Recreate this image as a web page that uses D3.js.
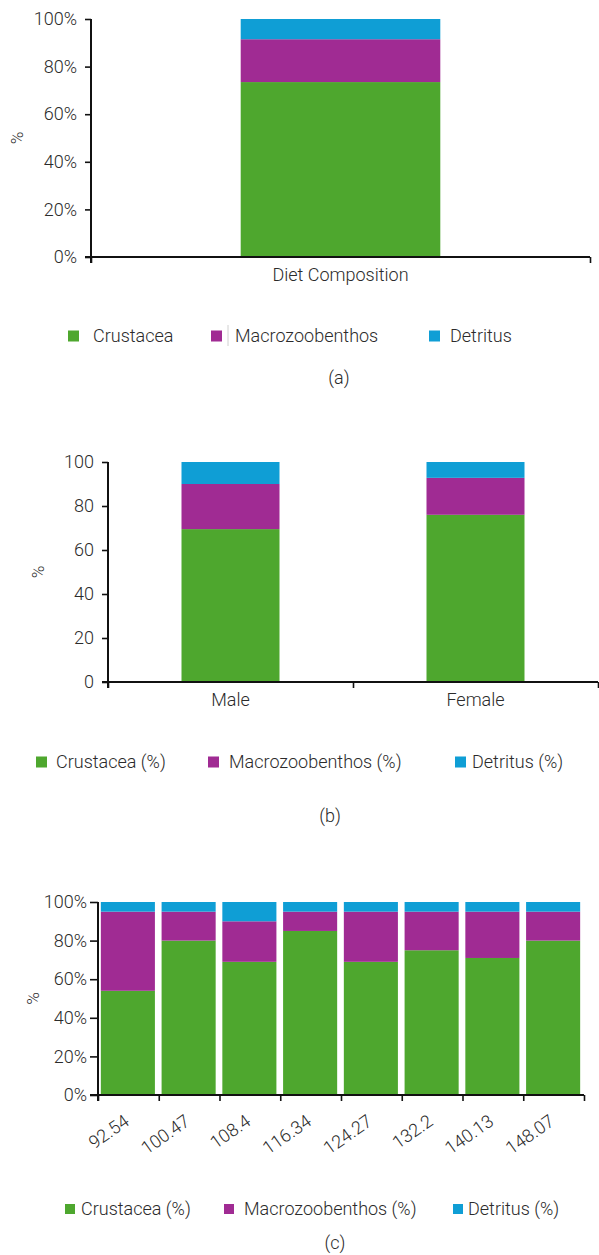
<!DOCTYPE html>
<html>
<head>
<meta charset="utf-8">
<script src="https://cdn.jsdelivr.net/npm/d3@7"></script>
<style>
  html, body { margin: 0; padding: 0; background: #fff; }
  svg { display: block; }
  text { font-family: Roboto, "Noto Sans", sans-serif; font-weight: 300; fill: #2b2b2b; }
</style>
</head>
<body>
<svg id="chart" width="599" height="1255"></svg>
<script>
// ---------- DATA ----------
const seriesNamesA = ["Crustacea", "Macrozoobenthos", "Detritus"];
const seriesNamesBC = ["Crustacea (%)", "Macrozoobenthos (%)", "Detritus (%)"];

const catsA = ["Diet Composition"];
const crustA = [73.5];
const macroA = [18];
const detA = [8.5];
const ticksA = [0, 20, 40, 60, 80, 100];

const catsB = ["Male", "Female"];
const crustB = [69.5, 76];
const macroB = [20.5, 16.8];
const detB = [10, 7.2];
const ticksB = [0, 20, 40, 60, 80, 100];

const catsC = ["92.54", "100.47", "108.4", "116.34", "124.27", "132.2", "140.13", "148.07"];
const crustC = [54, 80, 69, 85, 69, 75, 71, 80];
const macroC = [41, 15, 21, 10, 26, 20, 24, 15];
const detC = [5, 5, 10, 5, 5, 5, 5, 5];
const ticksC = [0, 20, 40, 60, 80, 100];

const colors = ["#4EA72E", "#A02B93", "#0F9ED5"];
const keys = ["crust", "macro", "det"];

const svg = d3.select("#chart");

function buildRows(cats, a, b, c) {
  return cats.map((cat, i) => ({ cat, crust: a[i], macro: b[i], det: c[i] }));
}

function panel(opt) {
  const rows = buildRows(opt.cats, opt.a, opt.b, opt.c);
  const g = svg.append("g");
  const x = d3.scaleBand().domain(opt.cats).range(opt.xRange).paddingInner(0).paddingOuter(0);
  const y = d3.scaleLinear().domain([0, 100]).range(opt.yRange);
  const stack = d3.stack().keys(keys)(rows);
  const bw = x.bandwidth() * opt.barRatio;

  stack.forEach((layer, li) => {
    g.selectAll(null).data(layer).enter().append("rect")
      .attr("x", d => x(d.data.cat) + (x.bandwidth() - bw) / 2 + (opt.barShift || 0))
      .attr("width", bw)
      .attr("y", d => y(d[1]))
      .attr("height", d => y(d[0]) - y(d[1]))
      .attr("fill", colors[li]);
  });

  // y axis
  const yAxis = d3.axisLeft(y).tickValues(opt.ticks).tickFormat(opt.fmt)
    .tickSize(opt.yTick).tickPadding(opt.yPad).tickSizeOuter(0);
  const ya = g.append("g").attr("transform", `translate(${opt.xRange[0]},0)`).call(yAxis);
  ya.select(".domain").remove();
  ya.selectAll("line").attr("stroke", "#111").attr("stroke-width", 1.6);
  ya.selectAll("text").style("font-size", "18px").attr("fill", "#2b2b2b");
  g.append("line")
    .attr("x1", opt.xRange[0]).attr("x2", opt.xRange[0])
    .attr("y1", opt.yRange[1]).attr("y2", opt.yRange[0] + 6)
    .attr("stroke", "#111").attr("stroke-width", 2);

  // x axis boundary ticks + line
  const n = opt.cats.length;
  const xb = d3.scaleLinear().domain([0, n]).range(opt.xRange);
  const xAxisB = d3.axisBottom(xb).tickValues(d3.range(n + 1)).tickFormat("").tickSize(6).tickSizeOuter(0);
  const xa = g.append("g").attr("transform", `translate(0,${opt.yRange[0]})`).call(xAxisB);
  xa.select(".domain").attr("stroke", "#111").attr("stroke-width", 2)
    .attr("d", `M${opt.xRange[0] - opt.yTick},0H${opt.xRange[1]}`);
  xa.selectAll("line").attr("stroke", "#111").attr("stroke-width", 1.6);

  // category labels
  const xAxisL = d3.axisBottom(x).tickSize(0).tickPadding(opt.xPad);
  const xl = g.append("g").attr("transform", `translate(0,${opt.yRange[0]})`).call(xAxisL);
  xl.select(".domain").remove();
  xl.selectAll("text").style("font-size", "18px").attr("fill", "#2b2b2b");
  if (opt.rotate) {
    xl.selectAll("text")
      .attr("text-anchor", "end")
      .attr("dy", null)
      .attr("y", null)
      .attr("transform", `translate(2,${opt.rotY}) rotate(-35)`);
  }

  // y title
  g.append("text")
    .attr("transform", `translate(${opt.yTitleX},${(opt.yRange[0] + opt.yRange[1]) / 2}) rotate(-90)`)
    .attr("text-anchor", "middle").attr("dy", "0.35em")
    .style("font-size", "17px").text("%");

  // legend
  opt.names.forEach((name, i) => {
    g.append("rect")
      .attr("x", opt.legSq[i]).attr("y", opt.legY - opt.sq / 2)
      .attr("width", opt.sq).attr("height", opt.sq).attr("fill", colors[i]);
    g.append("text")
      .attr("x", opt.legTx[i]).attr("y", opt.legY).attr("dy", "0.35em")
      .style("font-size", "18px").text(name);
  });

  // caption
  g.append("text").attr("x", opt.capX).attr("y", opt.capY).attr("dy", "0.35em")
    .attr("text-anchor", "middle").style("font-size", "18px").text(opt.caption);
  return g;
}

// Panel (a)
const ga = panel({
  cats: catsA, a: crustA, b: macroA, c: detA, ticks: ticksA, fmt: d => d + "%",
  xRange: [91, 590], yRange: [257, 19], barRatio: 0.4,
  yTick: 6, yPad: 8, xPad: 11, yTitleX: 17,
  names: seriesNamesA, legY: 336, sq: 11, legSq: [68, 211, 429], legTx: [93, 235, 450],
  caption: "(a)", capX: 339, capY: 378
});
ga.append("line").attr("x1", 228).attr("x2", 228).attr("y1", 325).attr("y2", 346)
  .attr("stroke", "#d0d0d0").attr("stroke-width", 1);

// Panel (b)
panel({
  cats: catsB, a: crustB, b: macroB, c: detB, ticks: ticksB, fmt: d => d,
  xRange: [108, 598], yRange: [682, 462], barRatio: 0.4,
  yTick: 6, yPad: 8, xPad: 11, yTitleX: 38,
  names: seriesNamesBC, legY: 762, sq: 11, legSq: [36, 208, 455], legTx: [56, 229, 472],
  caption: "(b)", capX: 330, capY: 816
});

// Panel (c)
panel({
  cats: catsC, a: crustC, b: macroC, c: detC, ticks: ticksC, fmt: d => d + "%",
  xRange: [98, 584], yRange: [1095, 902], barRatio: 0.89, barShift: -0.5,
  yTick: 8, yPad: 3, xPad: 0, yTitleX: 33, rotate: true, rotY: 29,
  names: seriesNamesBC, legY: 1209, sq: 10, legSq: [65, 224, 453], legTx: [81, 244, 468],
  caption: "(c)", capX: 335, capY: 1243
});
</script>
</body>
</html>
